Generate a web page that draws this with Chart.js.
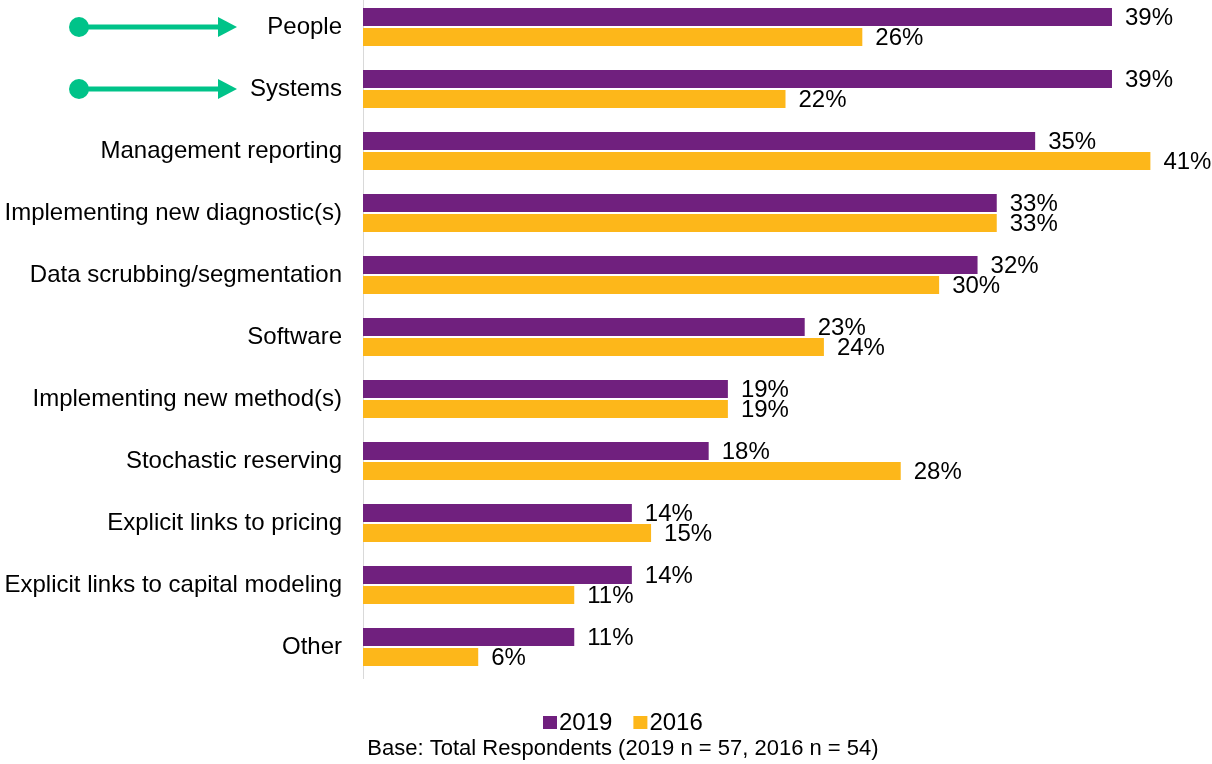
<!DOCTYPE html>
<html>
<head>
<meta charset="utf-8">
<script src="https://cdn.jsdelivr.net/npm/chart.js@4.4.1/dist/chart.umd.min.js"></script>
<style>
  html, body { margin: 0; padding: 0; background: #fff; overflow: hidden; }
  #wrap { position: relative; width: 1212px; height: 764px; overflow: hidden; }
  #chart { position: absolute; left: 0; top: -4px; }
</style>
</head>
<body>
<div id="wrap"><canvas id="chart" width="1212" height="768"></canvas></div>
<script>
const categories = [
  'People',
  'Systems',
  'Management reporting',
  'Implementing new diagnostic(s)',
  'Data scrubbing/segmentation',
  'Software',
  'Implementing new method(s)',
  'Stochastic reserving',
  'Explicit links to pricing',
  'Explicit links to capital modeling',
  'Other'
];
const values2019 = [39, 39, 35, 33, 32, 23, 19, 18, 14, 14, 11];
const values2016 = [26, 22, 41, 33, 30, 24, 19, 28, 15, 11, 6];
const seriesNames = ['2019', '2016'];
const highlighted = ['People', 'Systems'];
const caption = 'Base: Total Respondents (2019 n = 57, 2016 n = 54)';

const FONT = '"Liberation Sans", Arial, sans-serif';
const PURPLE = '#70207e';
const GOLD = '#fdb71a';
const GREEN = '#00c389';

// value labels at the end of each bar
const barLabels = {
  id: 'barLabels',
  afterDatasetsDraw(chart) {
    const ctx = chart.ctx;
    ctx.save();
    ctx.font = '24px ' + FONT;
    ctx.fillStyle = '#000';
    ctx.textBaseline = 'middle';
    ctx.textAlign = 'left';
    chart.data.datasets.forEach((ds, i) => {
      chart.getDatasetMeta(i).data.forEach((bar, j) => {
        ctx.fillText(ds.data[j] + '%', bar.x + 13, bar.y + 1);
      });
    });
    ctx.restore();
  }
};

// green pointers next to the highlighted categories
const pointers = {
  id: 'pointers',
  afterDraw(chart) {
    const ctx = chart.ctx;
    const y = chart.scales.y;
    ctx.save();
    ctx.fillStyle = GREEN;
    ctx.strokeStyle = GREEN;
    highlighted.forEach(name => {
      const cy = y.getPixelForValue(categories.indexOf(name));
      ctx.beginPath();
      ctx.arc(79, cy, 10, 0, Math.PI * 2);
      ctx.fill();
      ctx.lineWidth = 5;
      ctx.beginPath();
      ctx.moveTo(79, cy);
      ctx.lineTo(220, cy);
      ctx.stroke();
      ctx.beginPath();
      ctx.moveTo(218, cy - 10);
      ctx.lineTo(237, cy);
      ctx.lineTo(218, cy + 10);
      ctx.closePath();
      ctx.fill();
    });
    ctx.restore();
  }
};

// legend and base note under the plot
const footer = {
  id: 'footer',
  afterDraw(chart) {
    const ctx = chart.ctx;
    ctx.save();
    ctx.font = '24px ' + FONT;
    ctx.textBaseline = 'middle';
    ctx.textAlign = 'left';
    let x = 543;
    const ly = 726;
    chart.data.datasets.forEach((ds, i) => {
      ctx.fillStyle = ds.backgroundColor;
      ctx.fillRect(x, ly - 6, 14, 13);
      ctx.fillStyle = '#000';
      ctx.fillText(ds.label, x + 16, ly + 1);
      x += 16 + ctx.measureText(ds.label).width + 21;
    });
    ctx.font = '22px ' + FONT;
    ctx.textAlign = 'center';
    ctx.fillText(caption, 623, 753);
    ctx.restore();
  }
};

new Chart(document.getElementById('chart'), {
  type: 'bar',
  data: {
    labels: categories,
    datasets: [
      { label: seriesNames[0], data: values2019, backgroundColor: PURPLE },
      { label: seriesNames[1], data: values2016, backgroundColor: GOLD }
    ]
  },
  options: {
    indexAxis: 'y',
    responsive: false,
    animation: false,
    categoryPercentage: 0.645,
    barPercentage: 0.9,
    layout: { padding: { top: 0, right: 4, bottom: 86, left: 0 } },
    plugins: {
      legend: { display: false },
      tooltip: { enabled: false }
    },
    scales: {
      x: {
        display: false,
        min: 0,
        max: 44
      },
      y: {
        afterFit: (scale) => {
          scale.width = 363;
          scale.paddingTop = 0;
          scale.paddingBottom = 0;
        },
        grid: { display: false, drawTicks: false },
        border: { display: true, color: '#d9d9d9', width: 1 },
        ticks: {
          padding: 21,
          color: '#000',
          font: { family: FONT, size: 24 }
        }
      }
    }
  },
  plugins: [barLabels, pointers, footer]
});
</script>
</body>
</html>
